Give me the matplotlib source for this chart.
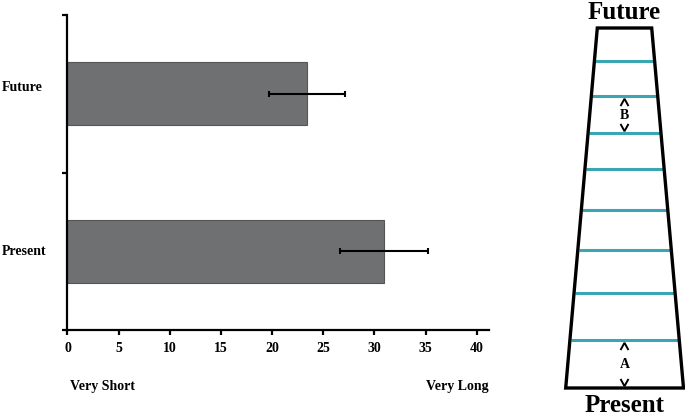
import matplotlib
matplotlib.use("Agg")
import matplotlib.pyplot as plt
from matplotlib.patches import Polygon

# ---- data ----
categories = ["Present", "Future"]
means = [30.9, 23.4]
errors = [4.3, 3.7]
xticks = [0, 5, 10, 15, 20, 25, 30, 35, 40]
scale_labels = ["Very Short", "Very Long"]

# schematic timeline (right panel), in panel units (0 = present, 360 = top)
rung_levels = [48, 95, 138, 178, 219, 255, 292, 327]
panel_labels = ["Future", "Present"]

plt.rcParams['font.family'] = ['Liberation Serif', 'DejaVu Serif']
plt.rcParams['font.weight'] = 'bold'

fig = plt.figure(figsize=(6.85, 4.17), dpi=100)

# ---- bar chart ----
ax = fig.add_axes([0.0985, 0.2086, 0.6155, 0.7554])
ypos = [0.5, 1.5]
ax.barh(ypos, means, height=0.4, color="#6f7071", edgecolor="#555555",
        linewidth=0.8, xerr=errors,
        error_kw=dict(ecolor="black", elinewidth=1.5, capsize=2.5, capthick=1.5))
ax.set_xlim(0, 41.2)
ax.set_ylim(0, 2)
ax.set_yticks([0, 1, 2])
ax.set_yticklabels([])
ax.set_xticks(xticks)
ax.set_xticklabels([str(t) for t in xticks], fontsize=10, fontweight='bold')
label_offsets = [0.0, 0.04]
for y, c, o in zip(ypos, categories, label_offsets):
    ax.text(-0.155, y + o, c, transform=ax.get_yaxis_transform(), ha='left',
            va='center', fontsize=10, fontweight='bold')
for s in ['top', 'right']:
    ax.spines[s].set_visible(False)
for s in ['left', 'bottom']:
    ax.spines[s].set_linewidth(1.6)
ax.tick_params(axis='both', width=1.6, length=3.5, direction='out', pad=5)
ax.text(0.005, -0.18, scale_labels[0], transform=ax.transAxes, ha='left',
        va='center', fontsize=10, fontweight='bold')
ax.text(1.0, -0.18, scale_labels[1], transform=ax.transAxes, ha='right',
        va='center', fontsize=10, fontweight='bold')

# ---- trapezoid schematic ----
ax2 = fig.add_axes([560 / 685, 0, 125 / 685, 1])
ax2.set_xlim(560, 685)
ax2.set_ylim(417, 0)
ax2.axis('off')

top_y, bot_y = 28, 388
top_l, top_r = 597.3, 651.7
bot_l, bot_r = 565.7, 683.5

def edge_x(yv, left=True):
    t = (yv - top_y) / (bot_y - top_y)
    if left:
        return top_l + t * (bot_l - top_l)
    return top_r + t * (bot_r - top_r)

for lv in rung_levels:
    yy = bot_y - lv
    ax2.plot([edge_x(yy, True) + 1, edge_x(yy, False) - 1], [yy, yy],
             color="#3aa6b4", lw=2.2, solid_capstyle='butt', zorder=2)

trap = Polygon([[top_l, top_y], [top_r, top_y], [bot_r, bot_y], [bot_l, bot_y]],
               closed=True, fill=False, edgecolor='black', lw=2.4, zorder=3,
               joinstyle='miter')
ax2.add_patch(trap)

cx = 624.5
ax2.text(cx, 12, panel_labels[0], ha='center', va='center', fontsize=18,
         fontweight='bold')
ax2.text(cx, 406, panel_labels[1], ha='center', va='center', fontsize=18,
         fontweight='bold')

def chevron(yc, up=True):
    d = -3.2 if up else 3.2
    ax2.plot([cx - 3.5, cx, cx + 3.5], [yc - d, yc + d, yc - d],
             color='black', lw=1.4, solid_joinstyle='miter', zorder=4)

# A marker
yA_top = bot_y - rung_levels[0]
chevron(yA_top + 6, up=True)
ax2.text(cx, (yA_top + bot_y) / 2 + 1, "A", ha='center', va='center', fontsize=10, fontweight='bold')
chevron(bot_y - 5, up=False)
# B marker
yB_top = bot_y - rung_levels[6]
yB_bot = bot_y - rung_levels[5]
chevron(yB_top + 6, up=True)
ax2.text(cx, (yB_top + yB_bot) / 2 + 1, "B", ha='center', va='center', fontsize=10, fontweight='bold')
chevron(yB_bot - 5, up=False)

fig.savefig("out.png", dpi=100)
